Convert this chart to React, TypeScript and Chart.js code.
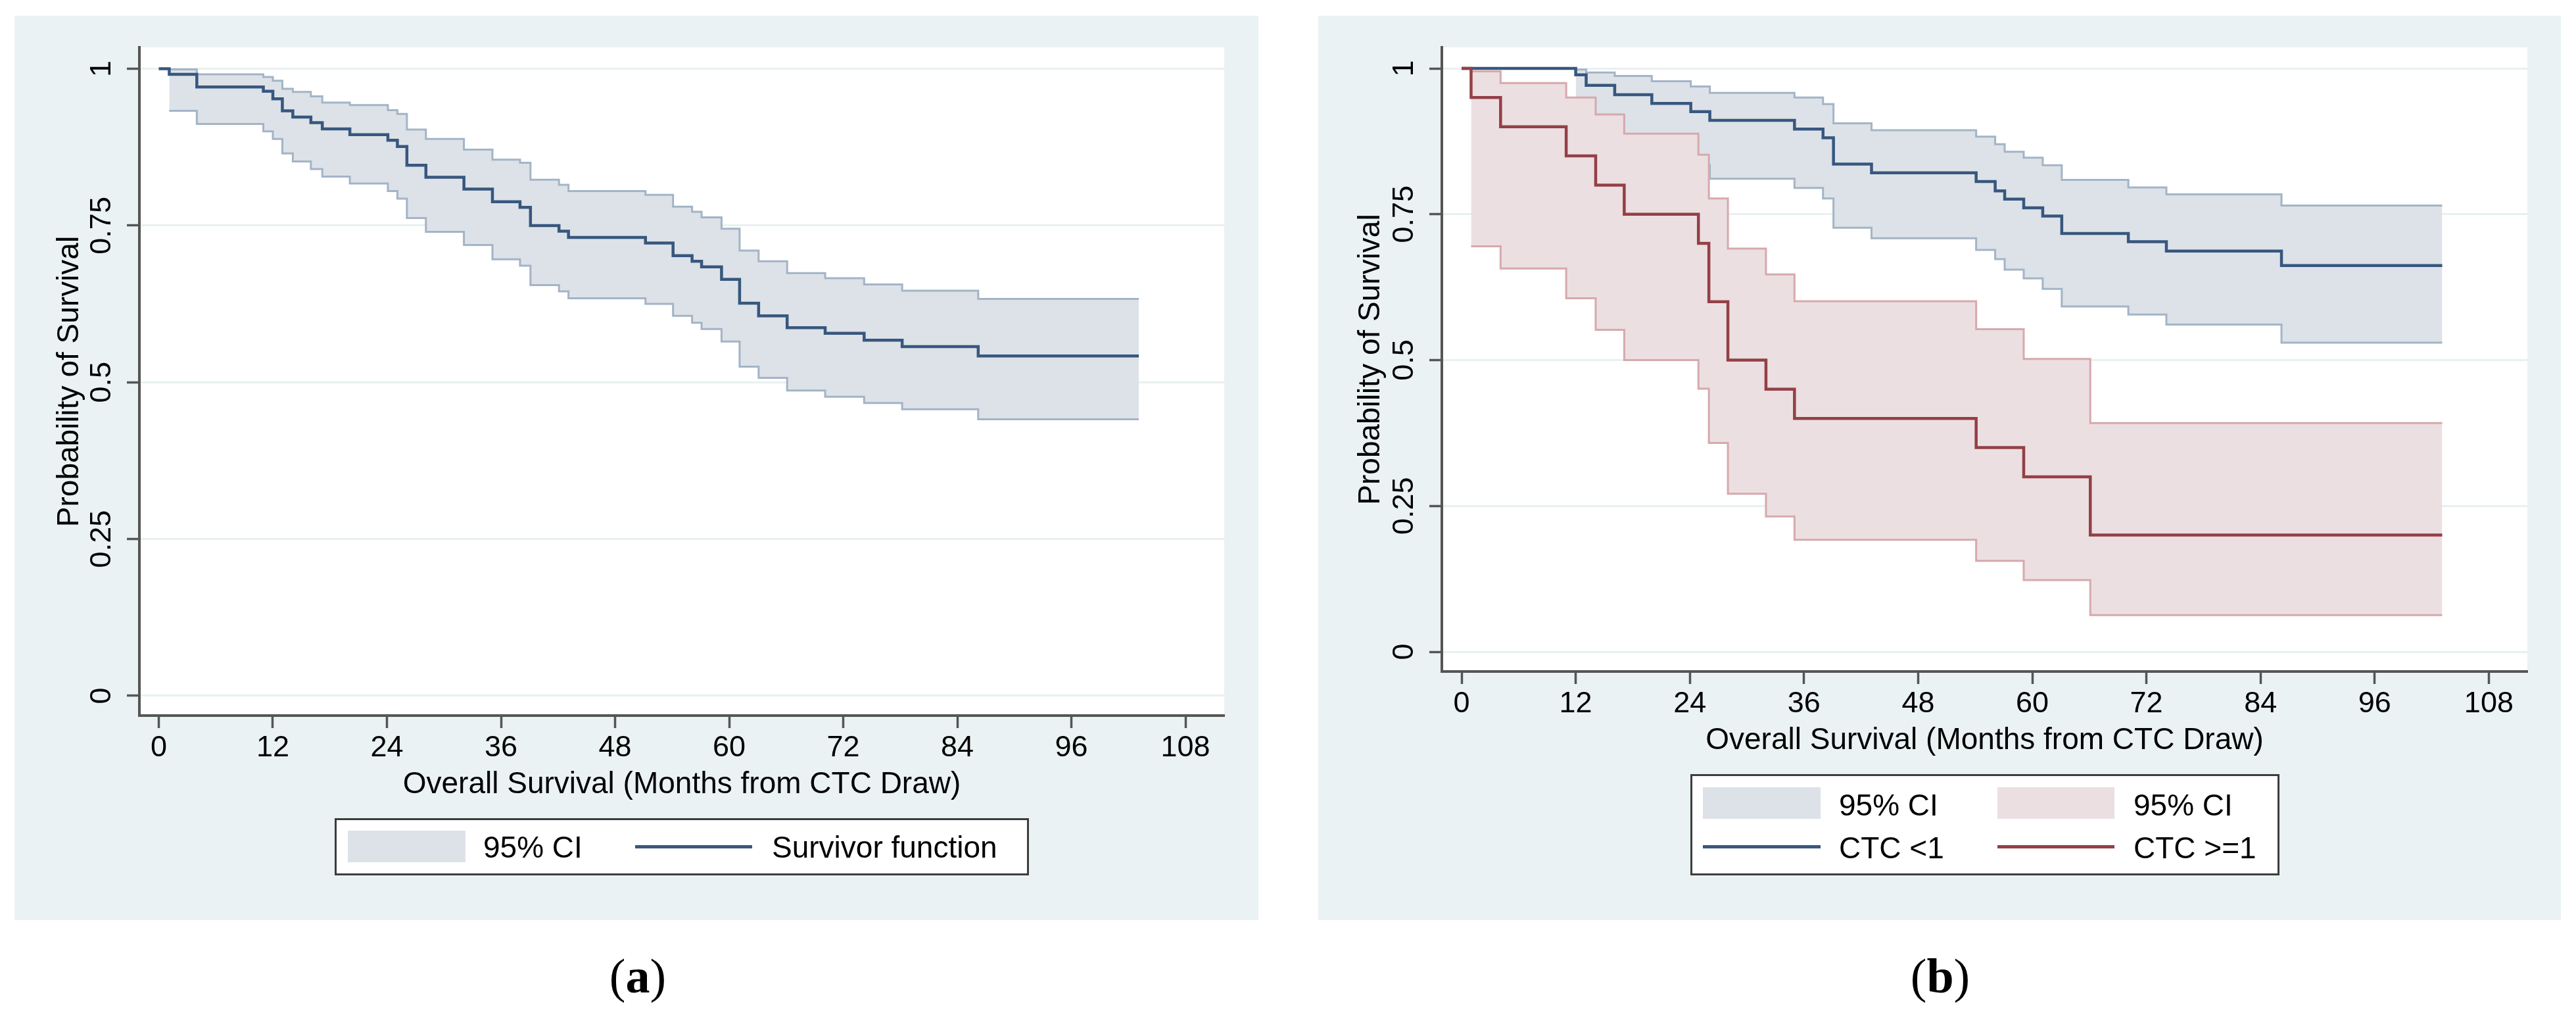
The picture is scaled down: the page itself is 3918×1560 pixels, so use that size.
import React, { useEffect, useRef } from 'react';
import { Chart, registerables } from 'chart.js';

Chart.register(...registerables);

const FONT = "'Liberation Sans', Arial, Helvetica, sans-serif";
const SERIF = "'Liberation Serif', 'DejaVu Serif', serif";

// ---------- axes ----------
const xTicks = [0, 12, 24, 36, 48, 60, 72, 84, 96, 108];
const yTicks = [0, 0.25, 0.5, 0.75, 1];
const yTickLabels = ['0', '0.25', '0.5', '0.75', '1'];
const xTitle = 'Overall Survival (Months from CTC Draw)';
const yTitle = 'Probability of Survival';

// ---------- panel (a): all patients ----------
const aTime = [0, 1.1, 4, 11, 12, 13, 14.1, 16, 17.2, 20.1, 24.1, 25.1, 26.1, 28.1, 32.1, 35.1, 38, 39.1, 42.1, 43.1, 51.2, 54.1, 56.1, 57.1, 59.2, 61.1, 63.1, 66.1, 70.1, 74.2, 78.2, 86.2, 103.1];
const aSurv = [1, 0.991, 0.971, 0.964, 0.952, 0.933, 0.923, 0.914, 0.904, 0.895, 0.886, 0.876, 0.846, 0.827, 0.808, 0.788, 0.779, 0.75, 0.741, 0.731, 0.722, 0.702, 0.693, 0.684, 0.664, 0.626, 0.606, 0.587, 0.578, 0.567, 0.557, 0.542, 0.542];
const aCiTime = [1.1, 4, 11, 12, 13, 14.1, 16, 17.2, 20.1, 24.1, 25.1, 26.1, 28.1, 32.1, 35.1, 38, 39.1, 42.1, 43.1, 51.2, 54.1, 56.1, 57.1, 59.2, 61.1, 63.1, 66.1, 70.1, 74.2, 78.2, 86.2, 103.1];
const aUpper = [0.999, 0.991, 0.987, 0.981, 0.968, 0.963, 0.956, 0.946, 0.942, 0.934, 0.928, 0.903, 0.888, 0.871, 0.855, 0.85, 0.823, 0.815, 0.805, 0.799, 0.78, 0.772, 0.763, 0.745, 0.71, 0.693, 0.674, 0.666, 0.656, 0.646, 0.633, 0.633];
const aLower = [0.933, 0.912, 0.9, 0.888, 0.865, 0.852, 0.84, 0.828, 0.817, 0.805, 0.793, 0.762, 0.74, 0.719, 0.696, 0.686, 0.655, 0.645, 0.634, 0.625, 0.606, 0.595, 0.585, 0.565, 0.525, 0.507, 0.487, 0.477, 0.467, 0.457, 0.441, 0.441];

// ---------- panel (b): CTC < 1 ----------
const bTime = [0, 12, 13.1, 16.1, 20, 24.1, 26.1, 35, 38, 39.1, 43.1, 54.1, 56.1, 57.1, 59.1, 61.1, 63.1, 70.1, 74.1, 86.2, 103.1];
const bSurv = [1, 0.989, 0.971, 0.955, 0.94, 0.926, 0.911, 0.896, 0.881, 0.836, 0.821, 0.806, 0.79, 0.776, 0.761, 0.747, 0.717, 0.703, 0.687, 0.662, 0.662];
const bCiTime = [12, 13.1, 16.1, 20, 24.1, 26.1, 35, 38, 39.1, 43.1, 54.1, 56.1, 57.1, 59.1, 61.1, 63.1, 70.1, 74.1, 86.2, 103.1];
const bUpper = [0.998, 0.993, 0.987, 0.978, 0.969, 0.958, 0.95, 0.939, 0.906, 0.894, 0.883, 0.87, 0.857, 0.847, 0.834, 0.809, 0.796, 0.784, 0.765, 0.765];
const bLower = [0.925, 0.9, 0.875, 0.858, 0.835, 0.811, 0.795, 0.777, 0.727, 0.709, 0.689, 0.673, 0.655, 0.64, 0.622, 0.592, 0.578, 0.561, 0.53, 0.53];

// ---------- panel (b): CTC >= 1 ----------
const cTime = [0, 1, 4.1, 11, 14.1, 17.1, 24.9, 26, 28, 32, 35, 54.1, 59.1, 66.1, 103.1];
const cSurv = [1, 0.95, 0.9, 0.85, 0.8, 0.75, 0.7, 0.6, 0.5, 0.45, 0.4, 0.35, 0.3, 0.2, 0.2];
const cCiTime = [1, 4.1, 11, 14.1, 17.1, 24.9, 26, 28, 32, 35, 54.1, 59.1, 66.1, 103.1];
const cUpper = [0.995, 0.975, 0.95, 0.921, 0.888, 0.852, 0.777, 0.691, 0.647, 0.601, 0.553, 0.502, 0.392, 0.392];
const cLower = [0.695, 0.657, 0.606, 0.552, 0.5, 0.451, 0.358, 0.271, 0.232, 0.192, 0.156, 0.123, 0.063, 0.063];

// ---------- colours ----------
const GRAPH_BG = '#eaf2f3';
const GRID = '#e9f0f1';
const AXIS = '#555555';
const BLUE_LINE = '#37577e';
const BLUE_CI_LINE = '#a3b4c7';
const BLUE_CI_FILL = '#dde2e8';
const RED_LINE = '#943f47';
const RED_CI_LINE = '#d6a9ad';
const RED_CI_FILL = '#ebdfe1';

const pts = (t: number[], v: number[]) => t.map((x, i) => ({ x, y: v[i] }));

const kmLine = (label: string, t: number[], v: number[], color: string) => ({
  label, data: pts(t, v), borderColor: color, borderWidth: 4.5, stepped: 'before' as const,
  pointRadius: 0, fill: false,
});
const ciUpper = (label: string, t: number[], v: number[], color: string) => ({
  label, data: pts(t, v), borderColor: color, borderWidth: 3, stepped: 'before' as const,
  pointRadius: 0, fill: false,
});
const ciLower = (label: string, t: number[], v: number[], color: string, fillColor: string) => ({
  label, data: pts(t, v), borderColor: color, borderWidth: 3, stepped: 'before' as const,
  pointRadius: 0, fill: '-1', backgroundColor: fillColor,
});

const bgPlugin = {
  id: 'stataBackground',
  beforeDraw(chart: any) {
    const { ctx, chartArea: a, width, height } = chart;
    ctx.save();
    ctx.fillStyle = GRAPH_BG;
    ctx.fillRect(0, 0, width, height);
    ctx.fillStyle = '#ffffff';
    ctx.fillRect(a.left, a.top, a.right - a.left, a.bottom - a.top);
    ctx.restore();
  },
};

type Spec = {
  left: number; top: number; width: number; height: number;
  area: { left: number; top: number; right: number; bottom: number };
  xMin: number; xMax: number; yMin: number; yMax: number;
  yTitlePad: number;
  datasets: any[];
};

const X_AXIS_H = 160;

function KMChart({ spec }: { spec: Spec }) {
  const ref = useRef<HTMLCanvasElement>(null);
  useEffect(() => {
    const canvas = ref.current!;
    const chart = new Chart(canvas, {
      type: 'line',
      data: { datasets: spec.datasets },
      plugins: [bgPlugin],
      options: {
        responsive: false,
        animation: false,
        devicePixelRatio: 1,
        layout: {
          padding: {
            left: 0,
            top: spec.area.top,
            right: spec.width - spec.area.right,
            bottom: spec.height - spec.area.bottom - X_AXIS_H,
          },
        },
        plugins: { legend: { display: false }, tooltip: { enabled: false } },
        elements: { point: { radius: 0 }, line: { tension: 0 } },
        scales: {
          x: {
            type: 'linear',
            bounds: 'data',
            min: spec.xMin,
            max: spec.xMax,
            afterBuildTicks: (s: any) => { s.ticks = xTicks.map((v) => ({ value: v })); },
            afterFit: (s: any) => { s.height = X_AXIS_H; },
            ticks: {
              autoSkip: false, maxRotation: 0, minRotation: 0, padding: 4, color: '#000',
              font: { family: FONT, size: 45 },
              callback: (v: any) => String(v),
            },
            grid: {
              display: true, drawOnChartArea: false, drawTicks: true, tickLength: 19,
              tickWidth: 3.5, tickColor: AXIS, color: AXIS,
            },
            border: { display: true, color: AXIS, width: 4 },
            title: {
              display: true, text: xTitle, color: '#000',
              font: { family: FONT, size: 46 }, padding: { top: 0, bottom: 27.4 },
            },
          },
          y: {
            type: 'linear',
            bounds: 'data',
            min: spec.yMin,
            max: spec.yMax,
            afterBuildTicks: (s: any) => { s.ticks = yTicks.map((v) => ({ value: v })); },
            afterFit: (s: any) => { s.width = spec.area.left; },
            ticks: {
              minRotation: 90, maxRotation: 90, crossAlign: 'center', padding: -6.5, color: '#000',
              font: { family: FONT, size: 45 },
              callback: (_v: any, i: number) => yTickLabels[i],
            },
            grid: {
              display: true, drawOnChartArea: true, color: GRID, lineWidth: 3,
              drawTicks: true, tickLength: 19, tickWidth: 3.5, tickColor: AXIS,
            },
            border: { display: true, color: AXIS, width: 4 },
            title: {
              display: true, text: yTitle, color: '#000',
              font: { family: FONT, size: 46 }, padding: { top: spec.yTitlePad, bottom: 0 },
            },
          },
        },
      } as any,
    });
    return () => chart.destroy();
  }, []);
  return (
    <canvas
      ref={ref}
      width={spec.width}
      height={spec.height}
      style={{ position: 'absolute', left: spec.left, top: spec.top, width: spec.width, height: spec.height }}
    />
  );
}

const specA: Spec = {
  left: 22, top: 24, width: 1892, height: 1375,
  area: { left: 190, top: 48, right: 1840, bottom: 1064 },
  xMin: -2.04, xMax: 112.08, yMin: -0.0315, yMax: 1.0341,
  yTitlePad: 56.4,
  datasets: [
    kmLine('Survivor function', aTime, aSurv, BLUE_LINE),
    ciUpper('95% CI upper', aCiTime, aUpper, BLUE_CI_LINE),
    ciLower('95% CI lower', aCiTime, aLower, BLUE_CI_LINE, BLUE_CI_FILL),
  ],
};

const specB: Spec = {
  left: 2005, top: 24, width: 1890, height: 1375,
  area: { left: 188, top: 48, right: 1839, bottom: 997 },
  xMin: -2.074, xMax: 112.05, yMin: -0.0338, yMax: 1.0361,
  yTitlePad: 52.4,
  datasets: [
    kmLine('CTC >=1', cTime, cSurv, RED_LINE),
    kmLine('CTC <1', bTime, bSurv, BLUE_LINE),
    ciUpper('95% CI upper (CTC >=1)', cCiTime, cUpper, RED_CI_LINE),
    ciLower('95% CI lower (CTC >=1)', cCiTime, cLower, RED_CI_LINE, RED_CI_FILL),
    ciUpper('95% CI upper (CTC <1)', bCiTime, bUpper, BLUE_CI_LINE),
    ciLower('95% CI lower (CTC <1)', bCiTime, bLower, BLUE_CI_LINE, BLUE_CI_FILL),
  ],
};

const abs = (l: number, t: number, w: number, h: number): React.CSSProperties => ({
  position: 'absolute', left: l, top: t, width: w, height: h,
});

function LegendText({ x, cy, text }: { x: number; cy: number; text: string }) {
  return (
    <div style={{ ...abs(x, cy - 30, 600, 60), lineHeight: '60px', fontFamily: FONT, fontSize: 46, color: '#000', whiteSpace: 'nowrap' }}>
      {text}
    </div>
  );
}
function Swatch({ x, cy, w, color }: { x: number; cy: number; w: number; color: string }) {
  return <div style={{ ...abs(x, cy - 24, w, 48), background: color }} />;
}
function LineKey({ x, cy, w, color }: { x: number; cy: number; w: number; color: string }) {
  return <div style={{ ...abs(x, cy - 2.5, w, 5), background: color }} />;
}

function Caption({ cx, letter }: { cx: number; letter: string }) {
  return (
    <div style={{ ...abs(cx - 100, 1434, 200, 100), lineHeight: '100px', textAlign: 'center', fontFamily: SERIF, fontSize: 74, color: '#000' }}>
      (<b>{letter}</b>)
    </div>
  );
}

export default function App() {
  return (
    <div style={{ position: 'absolute', left: 0, top: 0, width: 3918, height: 1560, background: '#ffffff', overflow: 'hidden' }}>
      <KMChart spec={specA} />
      <KMChart spec={specB} />

      {/* legend (a) */}
      <div style={{ ...abs(509, 1244, 1056, 87), boxSizing: 'border-box', border: '3px solid #3d3d3d', background: '#fff' }} />
      <Swatch x={529} cy={1287} w={179} color={BLUE_CI_FILL} />
      <LegendText x={735} cy={1288} text="95% CI" />
      <LineKey x={966} cy={1287} w={178} color={BLUE_LINE} />
      <LegendText x={1174} cy={1288} text="Survivor function" />

      {/* legend (b) */}
      <div style={{ ...abs(2571, 1177, 896, 154), boxSizing: 'border-box', border: '3px solid #3d3d3d', background: '#fff' }} />
      <Swatch x={2590} cy={1221} w={179} color={BLUE_CI_FILL} />
      <LegendText x={2797} cy={1224} text="95% CI" />
      <Swatch x={3038} cy={1221} w={178} color={RED_CI_FILL} />
      <LegendText x={3245} cy={1224} text="95% CI" />
      <LineKey x={2590} cy={1287} w={179} color={BLUE_LINE} />
      <LegendText x={2797} cy={1289} text="CTC <1" />
      <LineKey x={3038} cy={1287} w={178} color={RED_LINE} />
      <LegendText x={3245} cy={1289} text="CTC >=1" />

      <Caption cx={970} letter="a" />
      <Caption cx={2951} letter="b" />
    </div>
  );
}
